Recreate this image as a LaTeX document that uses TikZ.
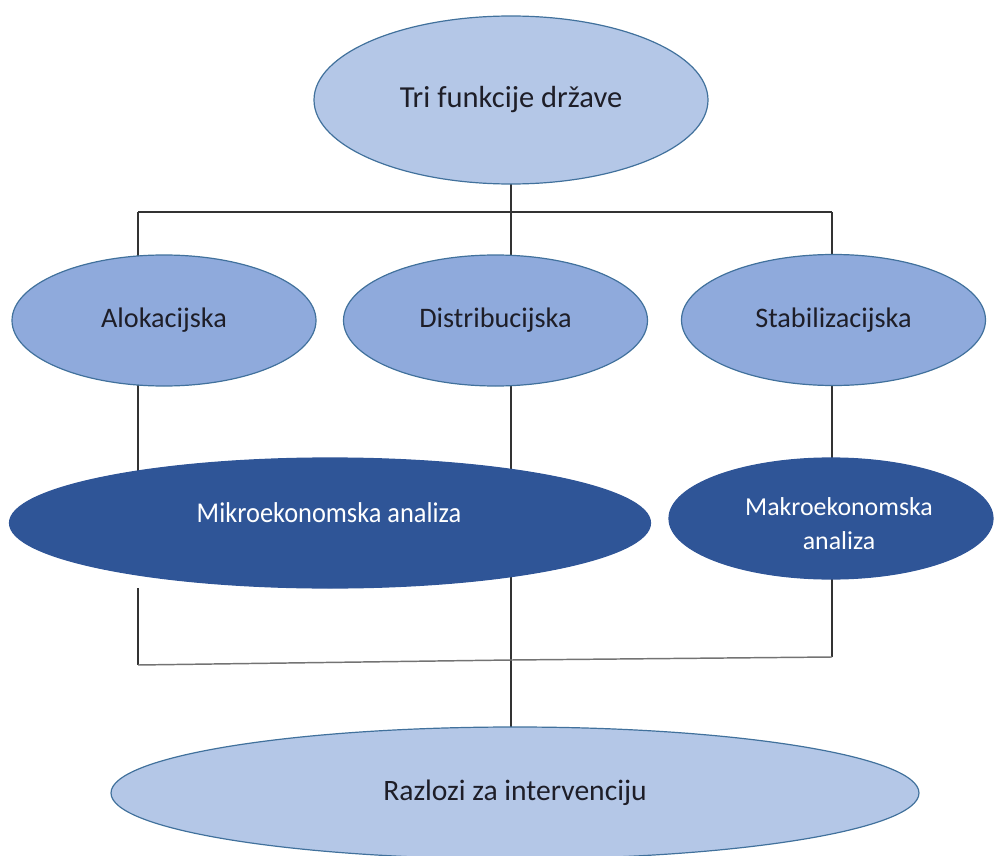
\documentclass[tikz,border=0pt]{standalone}
\usepackage{fontspec}
\setmainfont{Carlito}
\usetikzlibrary{shapes.geometric}
\pgfdeclarelayer{bg}
\pgfsetlayers{bg,main}
\definecolor{lightfill}{HTML}{B4C7E7}
\definecolor{midfill}{HTML}{8FAADC}
\definecolor{darkfill}{HTML}{2F5597}
\definecolor{edgeblue}{HTML}{41719C}
\definecolor{txt}{HTML}{1E1E28}
\begin{document}
\begin{tikzpicture}[x=0.75pt,y=-0.75pt,
  ell/.style={ellipse, draw=edgeblue, line width=0.9pt, inner sep=0pt, text=txt},
  lightell/.style={ell, fill=lightfill},
  midell/.style={ell, fill=midfill, minimum width=228pt, minimum height=98.25pt, font=\fontsize{21.2}{25}\selectfont},
  darkell/.style={ell, fill=darkfill, draw=darkfill},
  wtext/.style={text=white, align=center, inner sep=0pt},
  conn/.style={draw=black!80, line width=0.8pt},
  bus/.style={draw=black!55, line width=1.1pt}]
\useasboundingbox (0,0) rectangle (997,856);

% ellipses
\node[lightell, minimum width=295.5pt, minimum height=126pt, font=\fontsize{22.9}{27}\selectfont] (top) at (511,100) {Tri funkcije države};
\node[midell] (alok) at (164,320.5) {Alokacijska};
\node[midell] (distr) at (495.5,320.5) {Distribucijska};
\node[midell] (stab) at (833.5,320) {Stabilizacijska};
\node[darkell, minimum width=480.75pt, minimum height=97.5pt] (mikro) at (330,523) {};
\node[wtext, font=\fontsize{21.5}{25}\selectfont] (mikrot) at (329,513) {\scalebox{0.92}[1]{Mikroekonomska analiza}};
\node[darkell, minimum width=243pt, minimum height=90.75pt] (makro) at (831,518.5) {};
\node[wtext, font=\fontsize{19.4}{25.5}\selectfont] (makrot) at (839,524) {Makroekonomska\\analiza};
\node[lightell, minimum width=606pt, minimum height=99pt, font=\fontsize{22.2}{26}\selectfont] (razl) at (515,793) {Razlozi za intervenciju};

% connector points
\coordinate (jm) at (511,212);
\coordinate (jl) at (138,212);
\coordinate (jr) at (832,212);
\coordinate (bl1) at (138,588);
\coordinate (bl2) at (138,665);
\coordinate (bm) at (511,660);
\coordinate (br2) at (832,657);
\coordinate (br1) at (832,578);

\begin{pgfonlayer}{bg}
  \draw[conn] (top.center) -- (jm);
  \draw[conn] (jl) -- (jr);
  \draw[conn] (jl) -- (jl |- mikro.center);
  \draw[conn] (jm) -- (jm |- razl.center);
  \draw[conn] (jr) -- (jr |- makro.center);
  \draw[conn] (bl1) -- (bl2);
  \draw[conn] (br1) -- (br2);
  \draw[bus] (bl2) -- (bm) -- (br2);
\end{pgfonlayer}
\end{tikzpicture}
\end{document}
